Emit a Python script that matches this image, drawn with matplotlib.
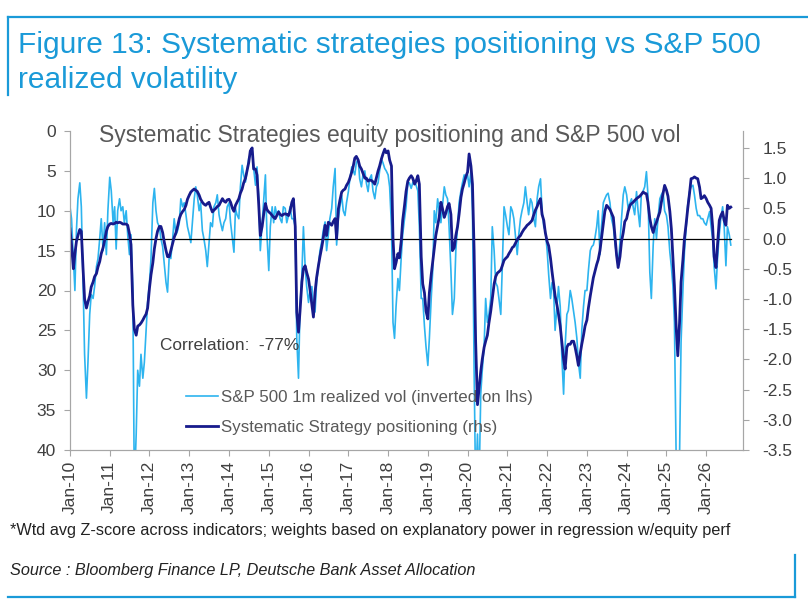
import numpy as np
import pandas as pd
import matplotlib
matplotlib.use('Agg')
import matplotlib.pyplot as plt
import matplotlib.dates as mdates
from matplotlib.lines import Line2D

plt.rcParams['font.family'] = ['Liberation Sans', 'DejaVu Sans']
plt.rcParams['axes.unicode_minus'] = False

# S&P 500 1m realized vol (lhs, inverted), semi-monthly, Jan-2010 .. Aug-2026
vol = (
    [9.5, 11, 16, 20, 12.5, 8.5, 6.5, 9.5, 19, 28, 33.5, 29, 23, 20.5, 21, 19.5, 17, 16, 13.5, 11, 15, 11.5, 15.5, 10]          # 2010
    + [5.8, 7.5, 11.5, 9.5, 14.8, 10, 8.5, 10, 9.5, 11.5, 10, 13, 15.5, 13, 20, 45, 38, 30, 32, 28, 31, 29, 25, 21.5]          # 2011
    + [19, 16, 9, 7.2, 10, 11.5, 12, 13.5, 14.5, 16.5, 19, 20.2, 15.5, 16, 13.5, 11, 13, 12.5, 11.5, 8.5, 9.5, 9, 10.5, 12]     # 2012
    + [13, 14, 11, 8.5, 7, 8, 10, 9, 12.5, 13.5, 15, 17, 14, 11.5, 12, 9.5, 9, 8, 10.5, 11.5, 12.5, 11.5, 11, 9.5]               # 2013
    + [9, 11.5, 13.5, 15.2, 9.7, 10.5, 11, 7, 4.3, 5.5, 6.4, 5, 3.4, 3, 2.4, 4.7, 6.8, 4.5, 8.5, 15, 11.5, 8.5, 5.5, 13]       # 2014
    + [17.5, 12, 9.5, 11.5, 9.5, 10.5, 10, 11, 11.5, 9.5, 9.7, 11.5, 10.6, 9.5, 11, 11, 12, 26, 31, 22, 18, 12, 17, 19.5]      # 2015
    + [21.5, 20, 19.5, 22, 22.7, 19, 16.9, 15, 13.9, 12.5, 11.4, 15, 13, 11, 9.7, 7, 4.7, 14.3, 11, 9.5, 8.1, 10, 10.6, 9]     # 2016
    + [7.6, 6, 4.5, 5, 5.5, 4, 3.5, 6, 7, 5.5, 5, 6.5, 7.6, 6, 5.5, 7.5, 8.5, 7, 6.5, 5, 3.5, 4, 4.7, 5]                        # 2017
    + [5.5, 7, 12, 24, 26, 22, 18.5, 20, 16, 13, 11, 9.5, 6.5, 6.5, 7.2, 6.5, 6.2, 6.8, 7.5, 12, 21, 21, 24.5, 27]               # 2018
    + [29.4, 26, 21, 17.5, 10, 11.5, 8.5, 10, 11.5, 9.5, 7, 8, 8.5, 12, 17.5, 23, 21, 15, 12, 9, 7.5, 6.5, 5.5, 6]              # 2019
    + [5.5, 7, 5, 10, 30, 45, 38, 45, 33, 30, 27, 21, 24, 23, 21, 12, 15, 19, 19.5, 21, 23, 17, 9.5, 10.5]                       # 2020
    + [12, 13, 9.5, 10, 11, 13, 15.5, 13, 11, 10, 9, 7, 9, 10.5, 8.5, 9, 11, 12, 8.5, 7, 6, 10, 12, 12.5]                        # 2021
    + [15, 18, 21, 19, 20, 25, 22, 19.5, 22, 28, 33, 27, 23, 22.5, 20, 21, 22.7, 24, 26, 29, 31, 25, 22, 20]                     # 2022
    + [20, 17.5, 15, 14.5, 14.3, 13.5, 12, 10, 15.5, 12, 9, 8.5, 8, 7.8, 9, 11, 12, 14, 15.5, 16.9, 14, 11, 8, 7]                # 2023
    + [8, 9.7, 9, 8.5, 9.5, 10.5, 7.6, 10, 12, 8, 7.5, 7, 5.1, 8, 17.7, 21, 14.3, 11, 13.5, 11, 8.5, 8, 7.6, 10]                 # 2024
    + [10.6, 12, 15.2, 17, 19.4, 24, 42, 45, 41, 26.5, 20, 15.2, 12, 9.3, 7.6, 7, 6.8, 8, 9.7, 10.6, 10.6, 11, 11, 11.5]        # 2025
    + [11.8, 11, 10.1, 12, 13.5, 17, 19.8, 16, 13, 11, 9.5, 12, 16.9, 12, 13, 14.3]                                              # 2026
)

# Systematic strategy positioning z-score (rhs), same dates
pos = (
    [0.16, -0.1, -0.5, -0.25, -0.05, 0.05, 0.15, 0.12, -0.5, -1.0, -1.15, -1.05, -0.95, -0.8, -0.72, -0.63, -0.58, -0.47, -0.38, -0.25, -0.15, -0.03, 0.12, 0.2]
    + [0.24, 0.25, 0.24, 0.25, 0.27, 0.26, 0.27, 0.26, 0.24, 0.24, 0.24, 0.22, 0.08, -0.1, -1.1, -1.5, -1.6, -1.45, -1.43, -1.4, -1.35, -1.3, -1.25, -1.15]
    + [-0.82, -0.6, -0.4, -0.17, 0.0, 0.12, 0.2, 0.2, 0.1, -0.05, -0.2, -0.3, -0.3, -0.2, -0.08, 0.02, 0.1, 0.2, 0.33, 0.4, 0.45, 0.48, 0.55, 0.65]
    + [0.72, 0.77, 0.8, 0.82, 0.8, 0.78, 0.72, 0.65, 0.6, 0.57, 0.55, 0.58, 0.6, 0.52, 0.44, 0.47, 0.5, 0.53, 0.55, 0.6, 0.66, 0.62, 0.6, 0.64]
    + [0.65, 0.6, 0.5, 0.45, 0.55, 0.6, 0.66, 0.75, 0.82, 0.92, 1.0, 1.12, 1.26, 1.45, 1.5, 1.15, 1.15, 1.05, 0.55, 0.05, 0.2, 0.4, 0.58, 0.48]
    + [0.44, 0.42, 0.38, 0.35, 0.33, 0.38, 0.44, 0.4, 0.38, 0.4, 0.41, 0.4, 0.38, 0.45, 0.6, 0.66, 0.2, -1.22, -1.55, -1.2, -0.72, -0.5, -0.45, -0.56]
    + [-0.67, -0.85, -1.1, -1.3, -0.89, -0.65, -0.45, -0.3, -0.15, 0.0, 0.22, 0.05, 0.27, 0.25, 0.22, 0.28, 0.33, 0.0, 0.49, 0.63, 0.77, 0.8, 0.82, 0.88]
    + [0.93, 1.0, 1.1, 1.2, 1.33, 1.36, 1.3, 1.2, 1.15, 1.08, 1.0, 1.0, 0.95, 0.97, 0.96, 0.94, 0.9, 1.0, 1.12, 1.2, 1.32, 1.4, 1.48, 1.42]
    + [1.45, 1.3, 1.2, 0.0, -0.5, -0.4, -0.25, -0.32, -0.05, 0.3, 0.55, 0.78, 0.95, 1.0, 1.04, 1.0, 0.9, 0.95, 1.04, 0.9, -0.3, -0.75, -0.9, -1.2]
    + [-1.33, -0.9, -0.6, -0.38, -0.15, 0.05, 0.22, 0.35, 0.6, 0.5, 0.35, 0.42, 0.53, 0.58, 0.4, -0.2, -0.15, 0.05, 0.2, 0.4, 0.68, 0.82, 0.92, 1.02]
    + [1.1, 1.4, 1.2, 0.9, -0.2, -1.7, -2.75, -2.5, -2.2, -2.0, -1.8, -1.7, -1.6, -1.4, -1.2, -1.0, -0.75, -0.63, -0.57, -0.55, -0.52, -0.45, -0.36, -0.33]
    + [-0.3, -0.25, -0.2, -0.15, -0.13, -0.08, -0.02, 0.02, 0.05, 0.1, 0.15, 0.18, 0.22, 0.24, 0.27, 0.3, 0.4, 0.47, 0.53, 0.6, 0.66, 0.4, 0.3, 0.1]
    + [-0.05, -0.12, -0.33, -0.55, -0.75, -0.95, -1.1, -1.25, -1.45, -1.7, -2.0, -2.16, -1.8, -1.75, -1.75, -1.7, -1.7, -1.8, -1.95, -2.1, -1.9, -1.75, -1.6, -1.45]
    + [-1.35, -1.15, -0.95, -0.8, -0.65, -0.55, -0.43, -0.35, -0.2, 0.0, 0.25, 0.45, 0.55, 0.52, 0.48, 0.42, 0.35, 0.05, -0.28, -0.48, -0.3, -0.05, 0.1, 0.28]
    + [0.33, 0.45, 0.55, 0.58, 0.6, 0.63, 0.66, 0.68, 0.7, 0.73, 0.77, 0.75, 0.74, 0.6, 0.33, 0.2, 0.1, 0.2, 0.27, 0.35, 0.44, 0.6, 0.75, 0.88]
    + [0.8, 0.7, 0.45, 0.16, -0.3, -0.78, -1.5, -1.94, -1.4, -0.72, -0.35, 0.0, 0.25, 0.49, 0.75, 0.99, 1.0, 1.02, 1.0, 0.99, 0.85, 0.66, 0.68, 0.71]
    + [0.66, 0.6, 0.55, 0.5, 0.2, -0.3, -0.48, -0.1, 0.3, 0.38, 0.44, 0.3, 0.22, 0.55, 0.5, 0.52]
)

dates = pd.date_range('2010-01-01', periods=len(vol), freq='SMS')
year_ticks = pd.date_range('2010-01-01', '2026-01-01', freq='YS')

light = '#2db4ef'
dark = '#171b8c'
grey = '#a6a6a6'
txt = '#404040'
blue = '#1a9ad8'

fig = plt.figure(figsize=(8.08, 6.08), dpi=100)
W, H = 808, 608
ax = fig.add_axes([70 / W, 1 - 450 / H, 673 / W, 319 / H])
ax2 = ax.twinx()

l0, = ax.plot(dates, vol, color=light, lw=1.2)
ax.set_ylim(40, 0)
ax.set_yticks(np.arange(0, 41, 5))
ax.set_xlim(pd.Timestamp('2010-01-01'), pd.Timestamp('2026-12-05'))
ax.set_xticks(year_ticks)
ax.xaxis.set_major_formatter(mdates.DateFormatter('%b-%y'))

ax2.plot(dates, np.zeros(len(dates)), color='black', lw=0.9)
l1, = ax2.plot(dates, pos, color=dark, lw=2.0)
ax2.set_ylim(-3.5, 1.78)
ax2.set_yticks(np.arange(-3.5, 1.51, 0.5))
ax2.yaxis.set_major_formatter(matplotlib.ticker.FormatStrFormatter('%.1f'))

for a in (ax, ax2):
    for s in a.spines.values():
        s.set_color(grey)
    a.spines['top'].set_visible(False)
    a.tick_params(colors=grey, labelcolor=txt, labelsize=12.5, length=4)
ax.tick_params(axis='x', rotation=90, pad=4)
ax.tick_params(axis='y', pad=6)
ax2.tick_params(axis='y', pad=10)

ax.text(0.475, 0.985, 'Systematic Strategies equity positioning and S&P 500 vol',
        transform=ax.transAxes, ha='center', va='center', fontsize=16.5, color='#595959')
ax.text(0.134, 0.329, 'Correlation:  -77%', transform=ax.transAxes,
        ha='left', va='center', fontsize=12.4, color='#404040')

ax2.legend([l0, l1], ['S&P 500 1m realized vol (inverted on lhs)', 'Systematic Strategy positioning (rhs)'],
           loc='lower left', bbox_to_anchor=(0.15, 0.0), frameon=False, fontsize=12.2,
           labelcolor='#595959', handlelength=1.9, handletextpad=0.15, labelspacing=0.85)

fig.text(18 / W, 1 - 45 / H, 'Figure 13: Systematic strategies positioning vs S&P 500',
         color=blue, fontsize=21.5, ha='left', va='center')
fig.text(18 / W, 1 - 80 / H, 'realized volatility', color=blue, fontsize=21.5, ha='left', va='center')

fig.text(10 / W, 1 - 530 / H,
         '*Wtd avg Z-score across indicators; weights based on explanatory power in regression w/equity perf',
         fontsize=11.7, color='#222222', ha='left', va='center')
fig.text(10 / W, 1 - 570 / H, 'Source : Bloomberg Finance LP, Deutsche Bank Asset Allocation',
         fontsize=11.7, style='italic', color='#222222', ha='left', va='center')

# blue frame
for xs, ys in [((8, 808), (17, 17)), ((8, 8), (17, 95)), ((8, 795), (597, 597)), ((795, 795), (555, 597))]:
    fig.add_artist(Line2D([x / W for x in xs], [1 - y / H for y in ys], color=blue, lw=1.6,
                          transform=fig.transFigure))

fig.savefig('out.png', dpi=100)
